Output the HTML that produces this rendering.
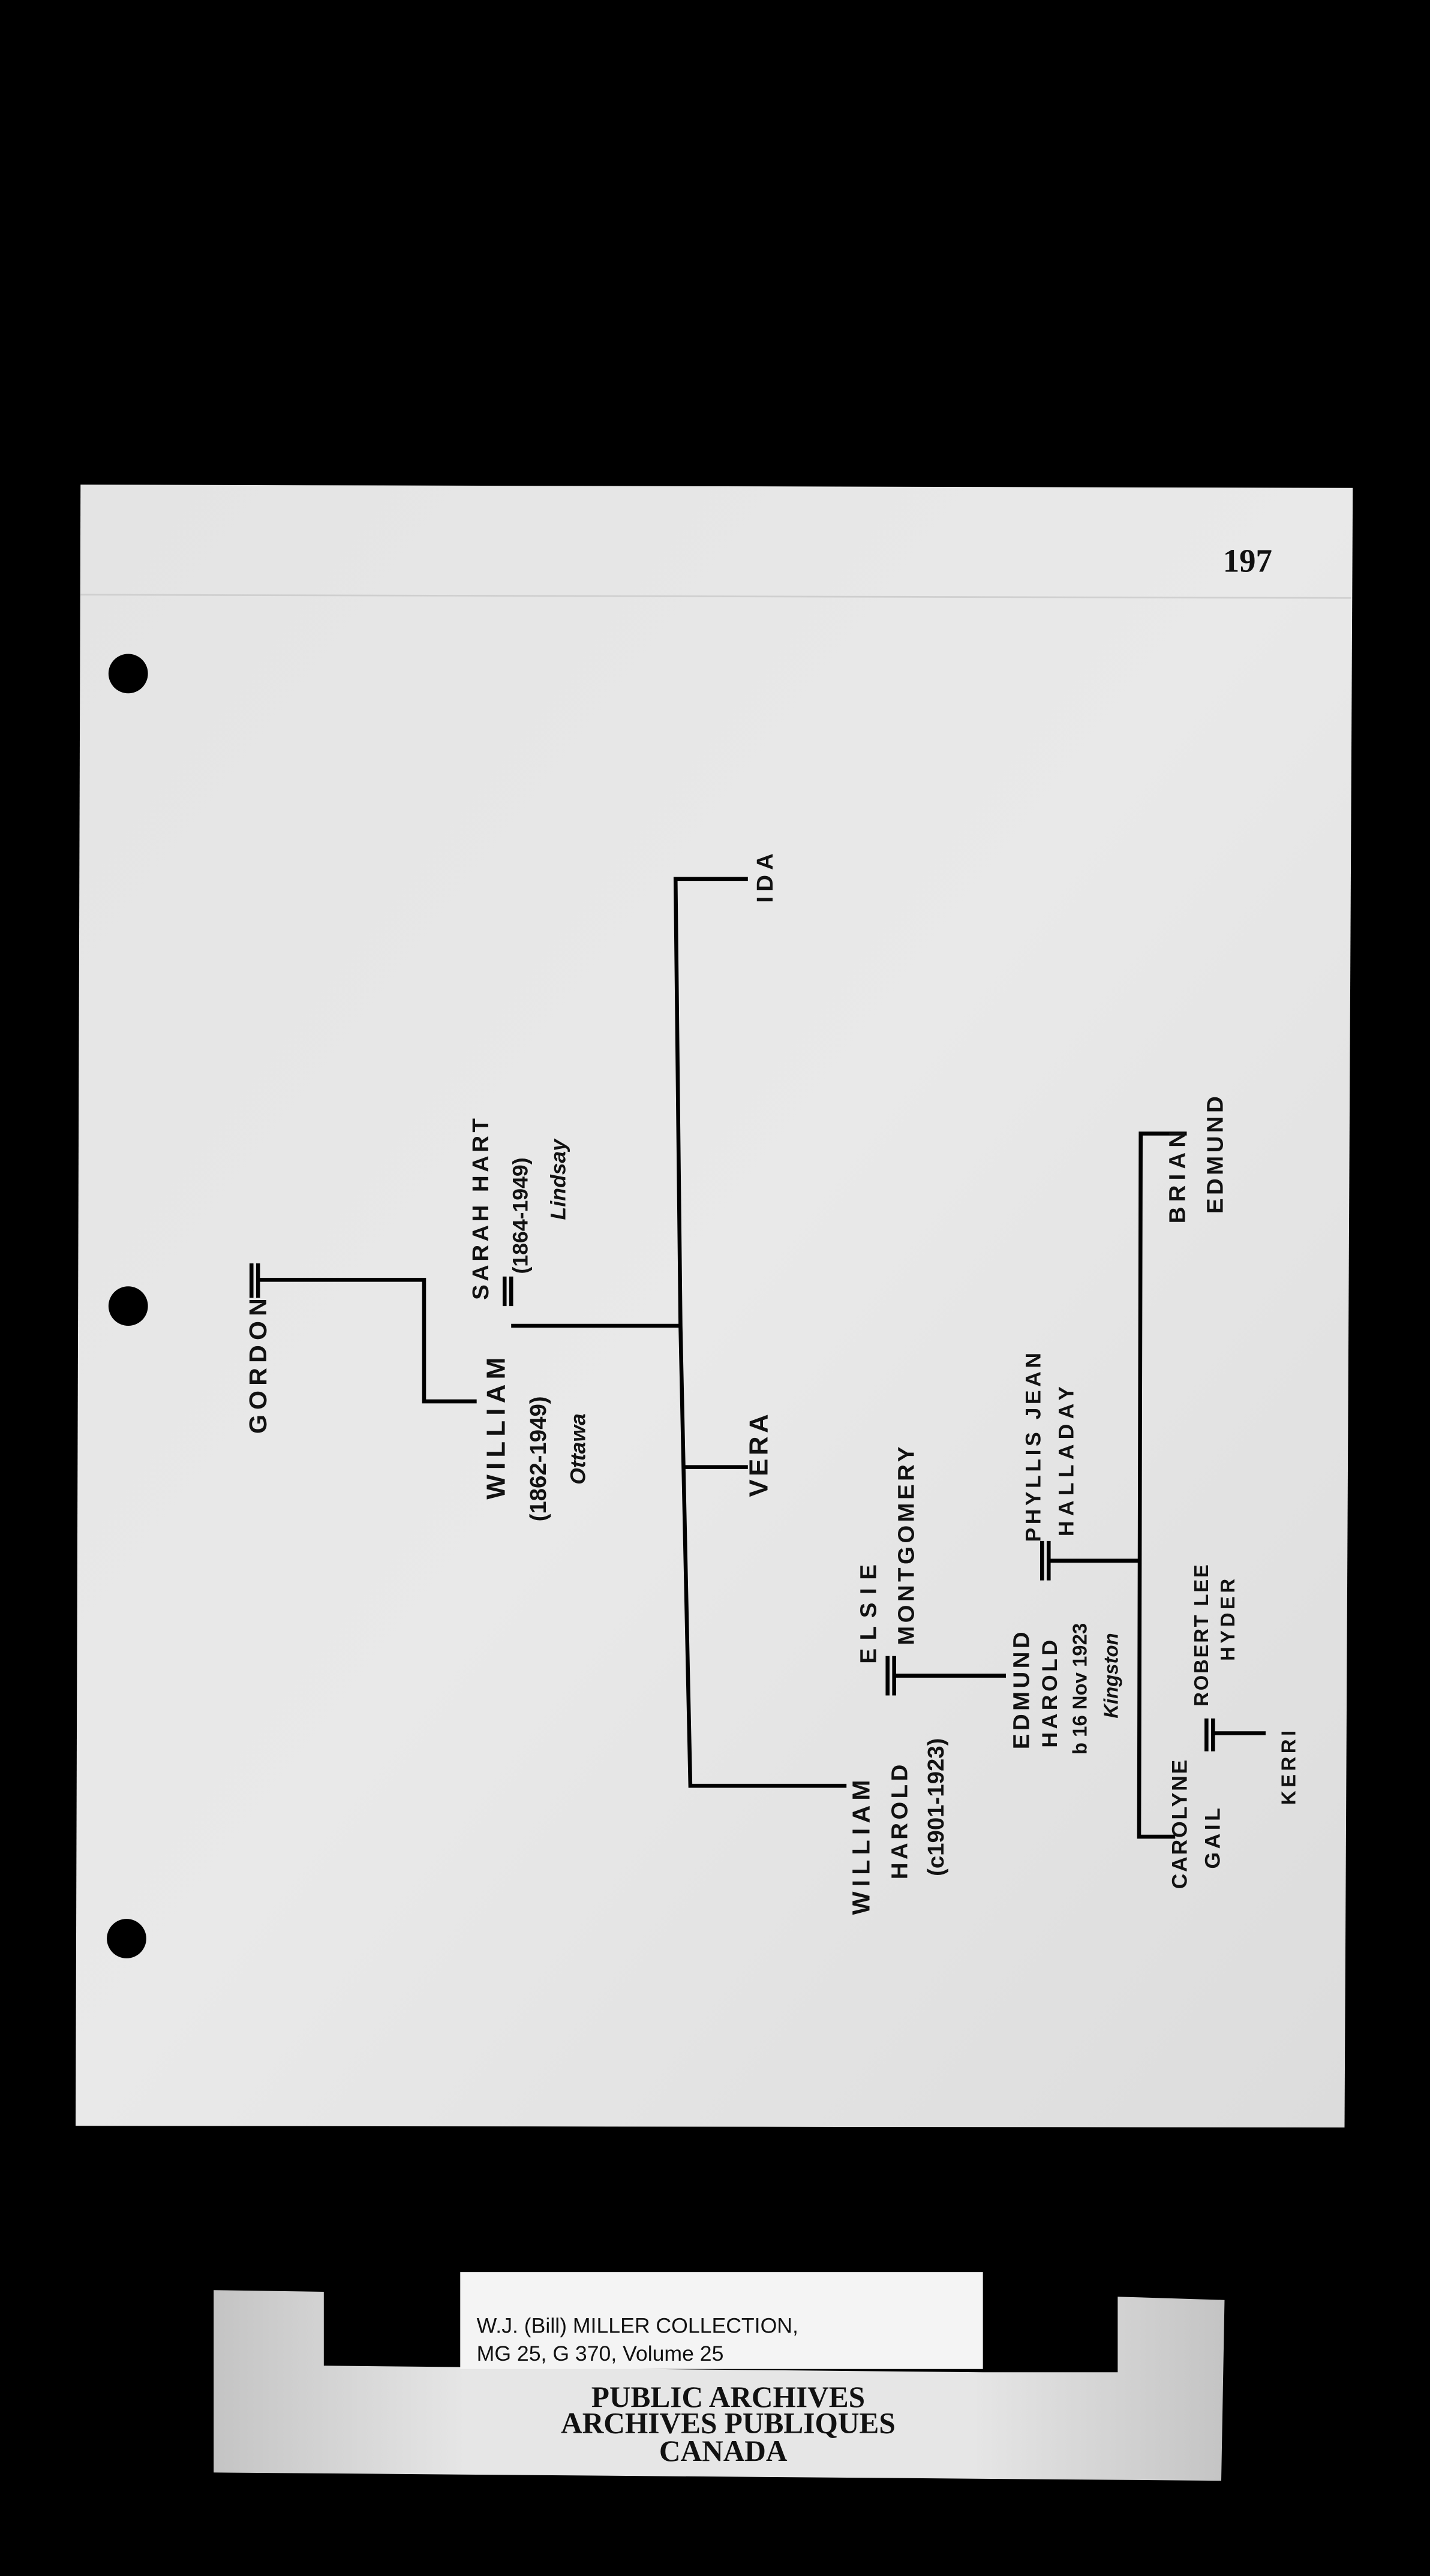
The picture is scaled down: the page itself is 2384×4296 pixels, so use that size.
<!DOCTYPE html>
<html><head><meta charset="utf-8"><style>
html,body{margin:0;padding:0;background:#000;}
svg{display:block;}
</style></head><body>
<svg width="2384" height="4296" viewBox="0 0 870 1568" preserveAspectRatio="none" xmlns="http://www.w3.org/2000/svg">
<defs>
<linearGradient id="pg" x1="0" y1="0" x2="1" y2="1">
<stop offset="0" stop-color="#e4e4e4"/><stop offset="0.5" stop-color="#e9e9e9"/><stop offset="1" stop-color="#dcdcdc"/>
</linearGradient>
<linearGradient id="lb" x1="0" y1="0" x2="1" y2="0">
<stop offset="0" stop-color="#c4c4c4"/><stop offset="0.25" stop-color="#e6e6e6"/><stop offset="0.75" stop-color="#e6e6e6"/><stop offset="1" stop-color="#c4c4c4"/>
</linearGradient>
</defs>
<rect x="0" y="0" width="870" height="1568" fill="#000"/>
<polygon points="49,295 823,297 818,1295 46,1294" fill="url(#pg)"/>
<line x1="49" y1="362" x2="822" y2="364" stroke="#cfcfcf" stroke-width="1"/>
<circle cx="78" cy="410" r="12" fill="#000"/>
<circle cx="78" cy="795" r="12" fill="#000"/>
<circle cx="77" cy="1180" r="12" fill="#000"/>
<text x="759" y="348" font-family="Liberation Serif, serif" font-weight="bold" font-size="20" text-anchor="middle" fill="#111">197</text>

<g stroke="#000" stroke-width="2.4" fill="none">
<line x1="153" y1="769" x2="153" y2="790"/><line x1="157" y1="769" x2="157" y2="790"/>
<polyline points="157,779 258,779 258,853 290,853"/>
<line x1="307" y1="777" x2="307" y2="795"/><line x1="311" y1="777" x2="311" y2="795"/>
<line x1="311" y1="807" x2="415" y2="807"/>
<polyline points="455,535 411,535 414,807 420,1087 515,1087"/>
<line x1="416" y1="893" x2="455" y2="893"/>
<line x1="540" y1="1008" x2="540" y2="1032"/><line x1="544" y1="1008" x2="544" y2="1032"/>
<polyline points="544,1020 548,1020 612,1020"/>
<line x1="634" y1="938" x2="634" y2="962"/><line x1="638" y1="938" x2="638" y2="962"/>
<line x1="638" y1="950" x2="693" y2="950"/>
<polyline points="722,690 694,690 693,1118 715,1118"/>
<line x1="734" y1="1046" x2="734" y2="1066"/><line x1="738" y1="1046" x2="738" y2="1066"/>
<line x1="738" y1="1055" x2="770" y2="1055"/>
</g>

<g font-family="Liberation Sans, sans-serif" font-weight="bold" fill="#111" text-anchor="middle">
<text transform="translate(162,830) rotate(-90)" font-size="15" letter-spacing="3">GORDON</text>
<text transform="translate(307,868) rotate(-90)" font-size="16" letter-spacing="3">WILLIAM</text>
<text transform="translate(332,888) rotate(-90)" font-size="14">(1862-1949)</text>
<text transform="translate(356,882) rotate(-90)" font-size="13" font-style="italic">Ottawa</text>
<text transform="translate(297,735) rotate(-90)" font-size="14" letter-spacing="2">SARAH HART</text>
<text transform="translate(321,740) rotate(-90)" font-size="13">(1864-1949)</text>
<text transform="translate(344,718) rotate(-90)" font-size="13" font-style="italic">Lindsay</text>
<text transform="translate(470,533) rotate(-90)" font-size="14" letter-spacing="3">IDA</text>
<text transform="translate(467,885) rotate(-90)" font-size="16" letter-spacing="2">VERA</text>
<text transform="translate(529,1123) rotate(-90)" font-size="15" letter-spacing="3">WILLIAM</text>
<text transform="translate(552,1108) rotate(-90)" font-size="14" letter-spacing="2">HAROLD</text>
<text transform="translate(574,1100) rotate(-90)" font-size="14">(c1901-1923)</text>
<text transform="translate(533,980) rotate(-90)" font-size="14" letter-spacing="5">ELSIE</text>
<text transform="translate(556,940) rotate(-90)" font-size="14" letter-spacing="2">MONTGOMERY</text>
<text transform="translate(626,1028) rotate(-90)" font-size="14" letter-spacing="2">EDMUND</text>
<text transform="translate(643,1030) rotate(-90)" font-size="13" letter-spacing="2">HAROLD</text>
<text transform="translate(661,1028) rotate(-90)" font-size="12">b 16 Nov 1923</text>
<text transform="translate(680,1020) rotate(-90)" font-size="12" font-style="italic">Kingston</text>
<text transform="translate(633,880) rotate(-90)" font-size="13" letter-spacing="2">PHYLLIS JEAN</text>
<text transform="translate(653,888) rotate(-90)" font-size="13" letter-spacing="3">HALLADAY</text>
<text transform="translate(721,715) rotate(-90)" font-size="14" letter-spacing="3">BRIAN</text>
<text transform="translate(744,702) rotate(-90)" font-size="14" letter-spacing="2">EDMUND</text>
<text transform="translate(735,995) rotate(-90)" font-size="12" letter-spacing="1">ROBERT LEE</text>
<text transform="translate(751,985) rotate(-90)" font-size="12" letter-spacing="2">HYDER</text>
<text transform="translate(722,1110) rotate(-90)" font-size="13" letter-spacing="1">CAROLYNE</text>
<text transform="translate(742,1118) rotate(-90)" font-size="13" letter-spacing="2">GAIL</text>
<text transform="translate(788,1075) rotate(-90)" font-size="12" letter-spacing="2">KERRI</text>
</g>

<polygon points="130,1394 197,1395 197,1440 598,1444 680,1444 680,1398 745,1400 743,1510 130,1505" fill="url(#lb)"/>
<rect x="280" y="1383" width="318" height="59" fill="#f4f4f4"/>
<text x="290" y="1420" font-family="Liberation Sans, sans-serif" font-size="13" fill="#111">W.J. (Bill) MILLER COLLECTION,</text>
<text x="290" y="1437" font-family="Liberation Sans, sans-serif" font-size="13" fill="#111">MG 25, G 370, Volume 25</text>
<g font-family="Liberation Serif, serif" font-weight="bold" font-size="18" fill="#111" text-anchor="middle">
<text x="443" y="1465">PUBLIC ARCHIVES</text>
<text x="443" y="1481">ARCHIVES PUBLIQUES</text>
<text x="440" y="1498">CANADA</text>
</g>
</svg>
</body></html>
